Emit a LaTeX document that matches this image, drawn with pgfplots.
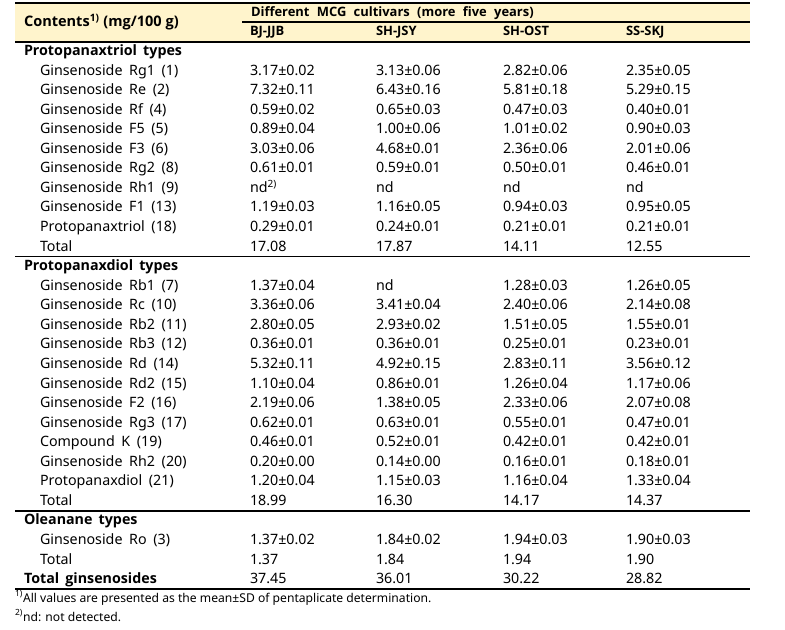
\documentclass[border=0pt]{standalone}
\usepackage{pgfplots}
\pgfplotsset{compat=1.18}
\usepackage{pgfplotstable}
\usepackage{fontspec}
\setmainfont{Noto Sans}
\newfontfamily\osans{Open Sans}
\definecolor{hdrbg}{HTML}{FFF4CC}
\newcommand\myhdr[1]{{\osans\fontsize{9.7}{11}\selectfont\bfseries #1}}
\newcommand\mycont[1]{{\osans\fontsize{10.9}{12}\selectfont\bfseries #1}}
\newcommand\mysect[1]{{\osans\bfseries #1}}
\newcommand\myfnote[1]{{\fontsize{9.1}{10}\selectfont #1}}
\newcommand\wsp{\hspace{5pt}}
\newcommand\ssp{\hspace{4.6pt}}
\newcommand\hsp{\hspace{5.5pt}}

\pgfplotstableread[col sep=comma]{
x,y,lab
24,26.5,\mycont{Contents\textsuperscript{1)} (mg/100 g)}
251,16.8,\myhdr{Different\hsp MCG\hsp cultivars\hsp (more\hsp five\hsp years)}
250,35.3,\myhdr{BJ-JJB}
376,35.3,\myhdr{SH-JSY}
503,35.3,\myhdr{SH-OST}
626,35.3,\myhdr{SS-SKJ}
}\header

\pgfplotstableread[col sep=comma]{
k,lab
0,\mysect{Protopanaxtriol\ssp types}
11,\mysect{Protopanaxdiol\ssp types}
24,\mysect{Oleanane\ssp types}
27,\mysect{Total\ssp ginsenosides}
}\sections

\pgfplotstableread[col sep=comma]{
k,lab
1,Ginsenoside\wsp Rg1\wsp (1)
2,Ginsenoside\wsp Re\wsp (2)
3,Ginsenoside\wsp Rf\wsp (4)
4,Ginsenoside\wsp F5\wsp (5)
5,Ginsenoside\wsp F3\wsp (6)
6,Ginsenoside\wsp Rg2\wsp (8)
7,Ginsenoside\wsp Rh1\wsp (9)
8,Ginsenoside\wsp F1\wsp (13)
9,Protopanaxtriol\wsp (18)
10,Total
12,Ginsenoside\wsp Rb1\wsp (7)
13,Ginsenoside\wsp Rc\wsp (10)
14,Ginsenoside\wsp Rb2\wsp (11)
15,Ginsenoside\wsp Rb3\wsp (12)
16,Ginsenoside\wsp Rd\wsp (14)
17,Ginsenoside\wsp Rd2\wsp (15)
18,Ginsenoside\wsp F2\wsp (16)
19,Ginsenoside\wsp Rg3\wsp (17)
20,Compound\wsp K\wsp (19)
21,Ginsenoside\wsp Rh2\wsp (20)
22,Protopanaxdiol\wsp (21)
23,Total
25,Ginsenoside\wsp Ro\wsp (3)
26,Total
}\names

\pgfplotstableread[col sep=comma]{
k,a,b,c,d
1,3.17±0.02,3.13±0.06,2.82±0.06,2.35±0.05
2,7.32±0.11,6.43±0.16,5.81±0.18,5.29±0.15
3,0.59±0.02,0.65±0.03,0.47±0.03,0.40±0.01
4,0.89±0.04,1.00±0.06,1.01±0.02,0.90±0.03
5,3.03±0.06,4.68±0.01,2.36±0.06,2.01±0.06
6,0.61±0.01,0.59±0.01,0.50±0.01,0.46±0.01
7,nd\textsuperscript{2)},nd,nd,nd
8,1.19±0.03,1.16±0.05,0.94±0.03,0.95±0.05
9,0.29±0.01,0.24±0.01,0.21±0.01,0.21±0.01
10,17.08,17.87,14.11,12.55
12,1.37±0.04,nd,1.28±0.03,1.26±0.05
13,3.36±0.06,3.41±0.04,2.40±0.06,2.14±0.08
14,2.80±0.05,2.93±0.02,1.51±0.05,1.55±0.01
15,0.36±0.01,0.36±0.01,0.25±0.01,0.23±0.01
16,5.32±0.11,4.92±0.15,2.83±0.11,3.56±0.12
17,1.10±0.04,0.86±0.01,1.26±0.04,1.17±0.06
18,2.19±0.06,1.38±0.05,2.33±0.06,2.07±0.08
19,0.62±0.01,0.63±0.01,0.55±0.01,0.47±0.01
20,0.46±0.01,0.52±0.01,0.42±0.01,0.42±0.01
21,0.20±0.00,0.14±0.00,0.16±0.01,0.18±0.01
22,1.20±0.04,1.15±0.03,1.16±0.04,1.33±0.04
23,18.99,16.30,14.17,14.37
25,1.37±0.02,1.84±0.02,1.94±0.03,1.90±0.03
26,1.37,1.84,1.94,1.90
27,37.45,36.01,30.22,28.82
}\vals

\pgfplotstableread[col sep=comma]{
x,y,lab
15,602,\myfnote{\textsuperscript{1)}All values are presented as the mean±SD of pentaplicate determination.}
15,621,\myfnote{\textsuperscript{2)}nd: not detected.}
}\notes

\begin{document}
\begin{tikzpicture}
\begin{axis}[
  scale only axis, width=588.75pt, height=471.75pt,
  xmin=0, xmax=785, ymin=0, ymax=629, y dir=reverse,
  axis lines=none, ticks=none, clip=false,
  point meta=explicit symbolic,
  nodes near coords,
  every node near coord/.style={anchor=base west, inner sep=0pt, outer sep=0pt, text=black,
    font=\fontsize{10.7}{12}\selectfont},
  tbl/.style={draw=none, mark=none},
]
% full picture area
\path (axis cs:0,0) rectangle (axis cs:785,629);
% header background and rules
\fill[hdrbg] (axis cs:15,4) rectangle (axis cs:750,41.5);
\draw[line width=1.6pt] (axis cs:15,3) -- (axis cs:750,3);
\draw[line width=0.8pt] (axis cs:242,22) -- (axis cs:750,22);
\draw[line width=1.6pt] (axis cs:15,42) -- (axis cs:750,42);
\draw[line width=0.8pt] (axis cs:15,256.5) -- (axis cs:750,256.5);
\draw[line width=0.8pt] (axis cs:15,511) -- (axis cs:750,511);
\draw[line width=1.6pt] (axis cs:15,589) -- (axis cs:750,589);

\addplot[tbl] table[x=x, y=y, meta=lab]{\header};
\addplot[tbl] table[x expr=24, y expr=55.5+19.56*\thisrow{k}, meta=lab]{\sections};
\addplot[tbl] table[x expr=40, y expr=55.5+19.56*\thisrow{k}, meta=lab]{\names};
\addplot[tbl] table[x expr=250, y expr=55.5+19.56*\thisrow{k}, meta=a]{\vals};
\addplot[tbl] table[x expr=376, y expr=55.5+19.56*\thisrow{k}, meta=b]{\vals};
\addplot[tbl] table[x expr=503, y expr=55.5+19.56*\thisrow{k}, meta=c]{\vals};
\addplot[tbl] table[x expr=626, y expr=55.5+19.56*\thisrow{k}, meta=d]{\vals};
\addplot[tbl] table[x=x, y=y, meta=lab]{\notes};
\end{axis}
\end{tikzpicture}
\end{document}
